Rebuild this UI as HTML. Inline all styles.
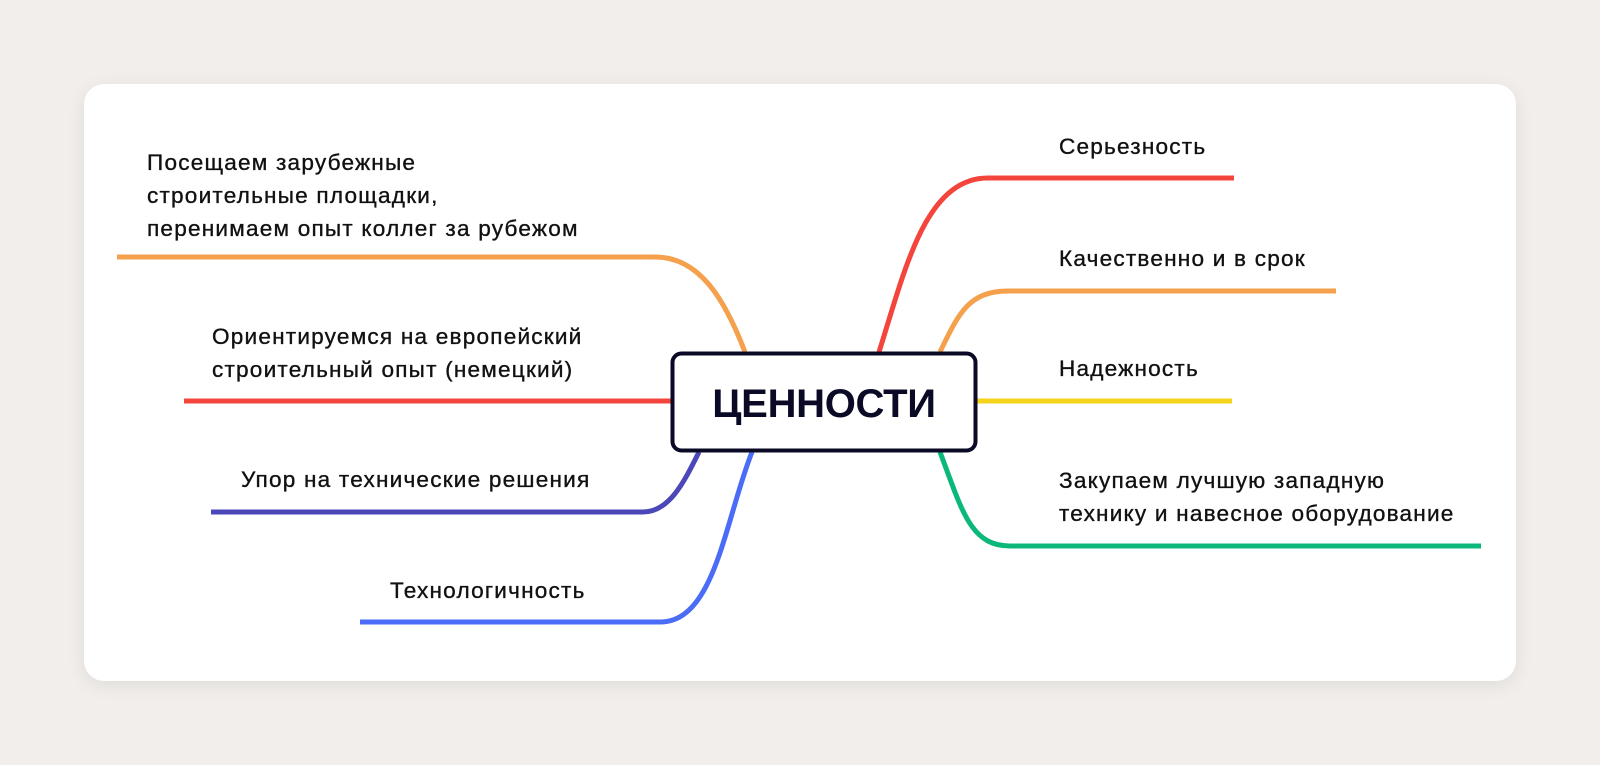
<!DOCTYPE html>
<html><head><meta charset="utf-8"><style>
html,body{margin:0;padding:0;width:1600px;height:765px;background:#f1eeeb;overflow:hidden;}
.card{position:absolute;left:84px;top:84px;width:1432px;height:597px;background:#fff;border-radius:20px;box-shadow:0 4px 18px rgba(0,0,0,0.08);}
svg{position:absolute;left:0;top:0;}
text{font-family:"Liberation Sans",sans-serif;font-size:22.6px;letter-spacing:1.2px;fill:#111;stroke:#111;stroke-width:0.35px;}
</style></head><body>
<div class="card"></div>
<svg width="1600" height="765" viewBox="0 0 1600 765">
<g fill="none" stroke-width="5" stroke-linecap="butt">
<path d="M117,257 L655,257 C700,257 725,300 745,352" stroke="#f5a04c"/>
<path d="M184,401 L672,401" stroke="#f4453c"/>
<path d="M211,512 L643,512 C670,512 685,480 699,452" stroke="#4b47b8"/>
<path d="M360,622 L660,622 C715,622 725,520 752,452" stroke="#4a6cf7"/>
<path d="M879,352 C905,270 925,178 988,178 L1234,178" stroke="#f4453c"/>
<path d="M940,352 C958,315 968,291 1008,291 L1336,291" stroke="#f5a04c"/>
<path d="M976,401 L1232,401" stroke="#f5d21b"/>
<path d="M940,452 C962,510 970,546 1010,546 L1481,546" stroke="#0bb87a"/>
</g>
<rect x="672.5" y="353.5" width="303" height="97" rx="9" fill="#fff" stroke="#0b0a26" stroke-width="4"/>
<text x="824" y="417" text-anchor="middle" style="font-size:40px;letter-spacing:-0.3px;font-weight:bold;fill:#0b0a26;stroke:none">ЦЕННОСТИ</text>
<text x="147" y="170">Посещаем зарубежные</text>
<text x="147" y="203">строительные площадки,</text>
<text x="147" y="236">перенимаем опыт коллег за рубежом</text>
<text x="212" y="344">Ориентируемся на европейский</text>
<text x="212" y="377">строительный опыт (немецкий)</text>
<text x="241" y="487">Упор на технические решения</text>
<text x="390" y="598">Технологичность</text>
<text x="1059" y="154">Серьезность</text>
<text x="1059" y="266">Качественно и в срок</text>
<text x="1059" y="376">Надежность</text>
<text x="1059" y="488">Закупаем лучшую западную</text>
<text x="1059" y="521">технику и навесное оборудование</text>
</svg>
</body></html>
